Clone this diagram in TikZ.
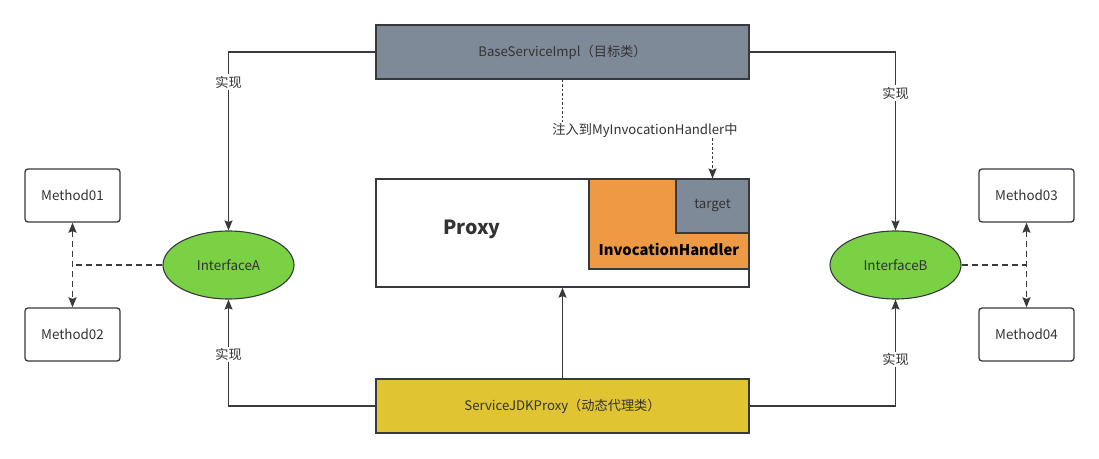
\documentclass[tikz,border=0pt]{standalone}
\usepackage{fontspec}
\setmainfont{Noto Sans CJK SC}
\usetikzlibrary{positioning,calc,shapes.geometric,arrows.meta}
\definecolor{lineDark}{HTML}{36393D}
\definecolor{edgeGray}{HTML}{3A3A3A}
\definecolor{textGray}{HTML}{333333}
\definecolor{targetFill}{HTML}{7F8A98}
\definecolor{proxyFill}{HTML}{E0C431}
\definecolor{handlerFill}{HTML}{EE9944}
\definecolor{ifaceFill}{HTML}{7AD144}
\tikzset{
	cls/.style={draw=lineDark,line width=1.3pt,minimum width=373pt,minimum height=54pt,inner sep=0pt,text=textGray,font=\fontsize{13.2}{15}\selectfont},
	method/.style={draw=lineDark,line width=1.3pt,rounded corners=3pt,minimum width=95pt,minimum height=53pt,inner sep=0pt,text=textGray,font=\fontsize{13.4}{15}\selectfont},
	iface/.style={ellipse,draw=lineDark,line width=1.1pt,fill=ifaceFill,minimum width=131pt,minimum height=68pt,inner sep=0pt,text=textGray,font=\fontsize{13.4}{15}\selectfont},
	impl/.style={draw=edgeGray,line width=1.3pt,-{Stealth[length=10pt,width=8pt,inset=1.5pt]}},
	dline/.style={draw=edgeGray,line width=1.6pt,dash pattern=on 6pt off 4pt},
	tag/.style={fill=white,inner sep=1.5pt,text=textGray,font=\fontsize{13.2}{15}\selectfont}
}
\begin{document}
\begin{tikzpicture}[x=1pt,y=-1pt]
	\useasboundingbox (0,0) rectangle (1099,458);
	%classes
	\node[cls,fill=targetFill] (base) at (562.5,52) {BaseServiceImpl（目标类）};
	\node[cls,fill=proxyFill] (jdk) at (562.5,406) {ServiceJDKProxy（动态代理类）};
	%proxy with handler and target inside
	\node[draw=lineDark,line width=1.3pt,fill=white,minimum width=373pt,minimum height=108pt,inner sep=0pt] (proxy) at (562.5,233) {};
	\node[draw=lineDark,line width=1.1pt,fill=handlerFill,minimum width=160pt,minimum height=90pt,inner sep=0pt] (handler) at (669,224) {};
	\node[draw=lineDark,line width=1.1pt,fill=targetFill,minimum width=73pt,minimum height=54pt,inner sep=0pt,text=textGray,font=\fontsize{13.2}{15}\selectfont] (target) at (712.5,206) {target};
	\node[font=\fontsize{19.5}{22}\selectfont\bfseries,text=textGray] (proxyname) at (472,229) {Proxy};
	\node[font=\fontsize{14.8}{17}\selectfont\bfseries,text=black] (handlername) at (669,249) {InvocationHandler};
	%interfaces
	\node[iface] (ifA) at (228.5,265) {InterfaceA};
	\node[iface] (ifB) at (895.5,265) {InterfaceB};
	%methods
	\node[method] (m1) at (72.5,195.5) {Method01};
	\node[method] (m2) at (72.5,334.5) {Method02};
	\node[method] (m3) at (1026.5,195.5) {Method03};
	\node[method] (m4) at (1026.5,334.5) {Method04};
	%implements
	\draw[impl] (base.west) -| node[tag,pos=0.584] {实现} (ifA.north);
	\draw[impl] (base.east) -| node[tag,pos=0.615] {实现} (ifB.north);
	\draw[impl] (jdk.west) -| node[tag,pos=0.743] {实现} (ifA.south);
	\draw[impl] (jdk.east) -| node[tag,pos=0.72] {实现} (ifB.south);
	\draw[impl] (jdk.north) -- (proxy.south);
	%inject target
	\node[tag,inner sep=1pt] (inject) at (645,130) {注入到MyInvocationHandler中};
	\draw[draw=edgeGray,line width=1.4pt,dash pattern=on 2.5pt off 2pt] (base.south) -- (inject.north -| base.south);
	\draw[draw=edgeGray,line width=1.4pt,dash pattern=on 2.5pt off 2pt,-{Stealth[length=10pt,width=8pt,inset=1.5pt]}] (inject.south -| target.north) -- (target.north);
	%methods of interfaces
	\draw[dline] (ifA.west) -- (ifA.west -| m1.south);
	\draw[dline,{Stealth[length=10pt,width=8pt,inset=1.5pt]}-{Stealth[length=10pt,width=8pt,inset=1.5pt]}] (m1.south) -- (m2.north);
	\draw[dline] (ifB.east) -- (ifB.east -| m3.south);
	\draw[dline,{Stealth[length=10pt,width=8pt,inset=1.5pt]}-{Stealth[length=10pt,width=8pt,inset=1.5pt]}] (m3.south) -- (m4.north);
\end{tikzpicture}
\end{document}
